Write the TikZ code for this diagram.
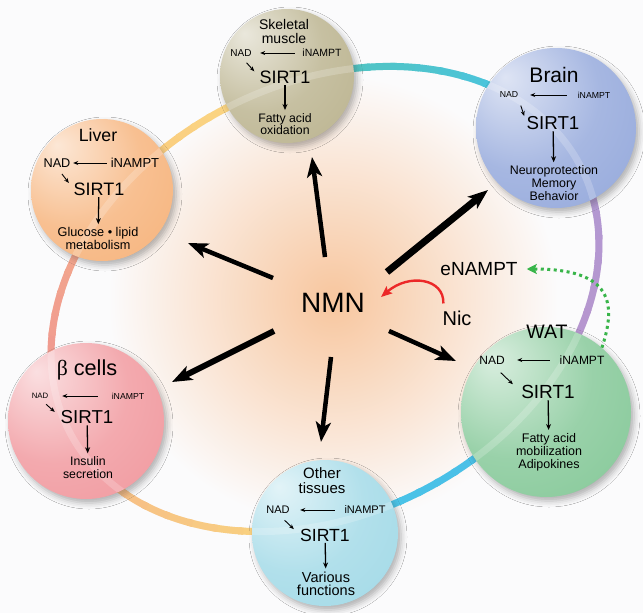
\documentclass[tikz,border=0pt]{standalone}
\usepackage{fontspec}
\setmainfont{Liberation Sans}
\newfontfamily\grkfont{Liberation Serif}
\usetikzlibrary{arrows.meta,calc,shadows.blur}

\definecolor{bg}{RGB}{251,251,252}
\definecolor{glow}{RGB}{248,198,158}
\definecolor{yLi}{RGB}{248,188,96}
\definecolor{ySk}{RGB}{250,208,100}
\definecolor{tSk}{RGB}{40,182,170}
\definecolor{cBrr}{RGB}{28,182,228}
\definecolor{pBr}{RGB}{158,130,202}
\definecolor{pWa}{RGB}{166,122,192}
\definecolor{cWar}{RGB}{28,174,224}
\definecolor{cOtr}{RGB}{30,182,226}
\definecolor{oOt}{RGB}{249,205,95}
\definecolor{oBe}{RGB}{243,162,108}
\definecolor{sBe}{RGB}{236,120,120}
\definecolor{sLi}{RGB}{240,150,110}
\definecolor{cSk}{RGB}{184,176,138}
\definecolor{cBr}{RGB}{144,165,218}
\definecolor{cLi}{RGB}{246,176,118}
\definecolor{cBe}{RGB}{240,148,154}
\definecolor{cWa}{RGB}{128,198,148}
\definecolor{cOt}{RGB}{158,216,230}
\definecolor{nicred}{RGB}{236,40,40}
\definecolor{dotgreen}{RGB}{57,181,74}
\colorlet{sphc}{gray}

\pgfdeclareradialshading[sphc]{sphere}{\pgfpoint{-16bp}{16bp}}{%
 color(0bp)=(sphc!30!white); color(24bp)=(sphc!80!white); color(50bp)=(sphc); color(70bp)=(sphc!85!black)}

\newcommand\setfs[2]{\fontsize{#1}{#2}\selectfont}

% ring arc with colour gradient: #1 start angle, #2 end angle, #3 start colour, #4 end colour
\newcommand\ringarc[4]{%
 \foreach \i in {0,...,11}{%
   \pgfmathsetmacro\ta{#1+(#2-#1)*\i/12}%
   \pgfmathsetmacro\tb{#1+(#2-#1)*(\i+1.2)/12}%
   \pgfmathtruncatemacro\pc{100*\i/11}%
   \colorlet{tmpc}{#4!\pc!#3}%
   \draw[ringseg, tmpc] plot[domain=\ta:\tb, samples=8, variable=\t] ({288*cos(\t)},{-215*sin(\t)});
 }}

\tikzset{
 sph/.style={/utils/exec={\colorlet{sphc}{#1}}, circle, inner sep=0pt, shade, shading=sphere,
   blur shadow={shadow xshift=3pt, shadow yshift=-4pt, shadow blur radius=6pt, shadow opacity=30}},
 ringseg/.style={line width=7pt, line cap=butt},
 lbl/.style={inner sep=0pt, align=center},
 sarr/.style={line width=0.9pt, -{Stealth[length=5pt,width=4pt]}},
 darr/.style={line width=1.3pt, shorten <=1.5pt, shorten >=3pt, -{Stealth[length=6pt,width=5pt]}},
 bigarr/.style={line width=#1, -{Stealth[length=20pt,width=15pt,inset=5pt]}},
}

\begin{document}
\begin{tikzpicture}[x=1pt,y=-1pt]
\useasboundingbox (0,0) rectangle (643,613);
\fill[bg] (0,0) rectangle (643,613);
\shade[inner color=glow, outer color=bg] (333,300) circle (225);

% ring (rotated ellipse)
\begin{scope}[shift={(325,299)}, rotate=27.6]
\ringarc{118.8}{76.4}{yLi}{ySk}
\ringarc{76.4}{11.9}{tSk}{cBrr}
\ringarc{11.9}{-62.1}{pBr}{pWa}
\ringarc{-62.1}{-111.3}{cWar}{cOtr}
\ringarc{-111.3}{-180.7}{oOt}{oBe}
\ringarc{179.3}{118.8}{sBe}{sLi}
\end{scope}

% organ spheres
\node[sph=cSk, minimum size=134pt] (sk) at (287,76) {};
\node[sph=cBr, minimum size=160pt] (br) at (556,128) {};
\node[sph=cLi, minimum size=142pt] (li) at (102,190) {};
\node[sph=cBe, minimum size=156pt] (be) at (86,421) {};
\node[sph=cWa, minimum size=170pt] (wa) at (546,412) {};
\node[sph=cOt, minimum size=146pt] (ot) at (325,533) {};

% faint ring through spheres
\begin{scope}[shift={(325,299)}, rotate=27.6]
\draw[ringseg, white, opacity=0.2] plot[domain=0:360, samples=120, variable=\t, smooth] ({288*cos(\t)},{-215*sin(\t)});
\end{scope}

% Skeletal muscle
\node[lbl, font=\setfs{14}{14}] (skT) at (284,31) {Skeletal\\muscle};
\node[lbl, font=\setfs{10}{10}] (skN) at (241,53) {NAD};
\node[lbl, font=\setfs{10.5}{10}] (skI) at (322,53) {iNAMPT};
\node[lbl, font=\setfs{18}{18}] (skS) at (285,77) {SIRT1};
\node[lbl, font=\setfs{12.3}{12.5}] (skE) at (285,124) {Fatty acid\\oxidation};
\draw[sarr] ([xshift=-7.5pt]skI.west) -- ([xshift=8.4pt]skN.east);
\draw[sarr] ($(skN.south)!0.3!(skS.west)$) -- ($(skN.south)!0.72!(skS.west)$);
\draw[darr] (skS) -- (skE);

% Brain
\node[lbl, font=\setfs{21}{21}] (brT) at (554,75) {Brain};
\node[lbl, font=\setfs{8.7}{9}] (brN) at (509,95) {NAD};
\node[lbl, font=\setfs{8.7}{9}] (brI) at (594,95) {iNAMPT};
\node[lbl, font=\setfs{18.7}{18}] (brS) at (553,123) {SIRT1};
\node[lbl, font=\setfs{12.4}{13}] (brE) at (554,183) {Neuroprotection\\Memory\\Behavior};
\draw[sarr] ([xshift=-10.8pt]brI.west) -- ([xshift=11.8pt]brN.east);
\draw[sarr] ($(brN.south east)!0.3!(brS.west)$) -- ($(brN.south east)!0.72!(brS.west)$);
\draw[darr] (brS) -- (brE);

% Liver
\node[lbl, font=\setfs{17.7}{18}] (liT) at (98,135) {Liver};
\node[lbl, font=\setfs{12.7}{13}] (liN) at (57,163) {NAD};
\node[lbl, font=\setfs{13}{13}] (liI) at (135,163) {iNAMPT};
\node[lbl, font=\setfs{18}{18}] (liS) at (99,189) {SIRT1};
\node[lbl, font=\setfs{12.7}{13}] (liE) at (98,238.5) {Glucose • lipid\\metabolism};
\draw[sarr] ([xshift=-3.8pt]liI.west) -- ([xshift=2.6pt]liN.east);
\draw[sarr] ($(liN.south)!0.3!(liS.west)$) -- ($(liN.south)!0.72!(liS.west)$);
\draw[darr] (liS) -- (liE);

% beta cells
\node[lbl, font=\setfs{21.7}{22}] (beT) at (87,370) {{\grkfont β} cells};
\node[lbl, font=\setfs{7.8}{8}] (beN) at (40,396) {NAD};
\node[lbl, font=\setfs{8.7}{9}] (beI) at (128,396) {iNAMPT};
\node[lbl, font=\setfs{18.7}{18}] (beS) at (87,417) {SIRT1};
\node[lbl, font=\setfs{12.3}{13}] (beE) at (88,467.5) {Insulin\\secretion};
\draw[sarr] ([xshift=-13.8pt]beI.west) -- ([xshift=13.8pt]beN.east);
\draw[sarr] ($(beN.south)!0.3!(beS.west)$) -- ($(beN.south)!0.72!(beS.west)$);
\draw[darr] (beS) -- (beE);

% WAT
\node[lbl, font=\setfs{19.5}{20}] (waT) at (547,332) {WAT};
\node[lbl, font=\setfs{12}{12}] (waN) at (492,360) {NAD};
\node[lbl, font=\setfs{12}{12}] (waI) at (582,360) {iNAMPT};
\node[lbl, font=\setfs{19}{19}] (waS) at (548,392) {SIRT1};
\node[lbl, font=\setfs{12.5}{13}] (waE) at (549,452) {Fatty acid\\mobilization\\Adipokines};
\draw[sarr] ([xshift=-9.7pt]waI.west) -- ([xshift=12.3pt]waN.east);
\draw[sarr] ($(waN.south)!0.3!(waS.west)$) -- ($(waN.south)!0.72!(waS.west)$);
\draw[darr] (waS) -- (waE);

% Other tissues
\node[lbl, font=\setfs{15}{15}] (otT) at (322,480.5) {Other\\tissues};
\node[lbl, font=\setfs{11}{11}] (otN) at (278,510) {NAD};
\node[lbl, font=\setfs{11}{11}] (otI) at (365,510) {iNAMPT};
\node[lbl, font=\setfs{17.6}{18}] (otS) at (325,535) {SIRT1};
\node[lbl, font=\setfs{14.5}{13}] (otE) at (326,583.5) {Various\\functions};
\draw[sarr] ([xshift=-9.5pt]otI.west) -- ([xshift=10.4pt]otN.east);
\draw[sarr] ($(otN.south)!0.3!(otS.west)$) -- ($(otN.south)!0.72!(otS.west)$);
\draw[darr] (otS) -- (otE);

% centre
\node[lbl, font=\setfs{28}{28}] (nmn) at (333,303) {NMN};
\node[lbl, font=\setfs{19}{19}] (enampt) at (479,269) {eNAMPT};
\node[lbl, font=\setfs{20}{20}] (nic) at (457,318) {Nic};

\coordinate (a1s) at (325,257); \coordinate (a1e) at (312,157);
\coordinate (a2s) at (387,272); \coordinate (a2e) at (488,190);
\coordinate (a3s) at (273,278); \coordinate (a3e) at (188,243);
\coordinate (a4s) at (274,331); \coordinate (a4e) at (172,382);
\coordinate (a5s) at (331,357); \coordinate (a5e) at (321,442);
\coordinate (a6s) at (389,331); \coordinate (a6e) at (456,361);
\draw[bigarr=4.5pt] (a1s) -- (a1e);
\draw[bigarr=7pt] (a2s) -- (a2e);
\draw[bigarr=4.5pt] (a3s) -- (a3e);
\draw[bigarr=6pt] (a4s) -- (a4e);
\draw[bigarr=4.5pt] (a5s) -- (a5e);
\draw[bigarr=4.5pt] (a6s) -- (a6e);

\draw[nicred, line width=2.4pt, -{Stealth[length=11pt,width=9pt,inset=2pt]}]
  ([xshift=1pt,yshift=7pt]nic.north west) .. controls +(1,-25) and +(28,-24) .. ([xshift=16pt,yshift=6pt]nmn.east);
\draw[dotgreen, line width=3pt, dash pattern=on 3pt off 3.5pt, -{Stealth[length=10pt,width=10pt,inset=2pt]}]
  (wa.49) .. controls +(15,-45) and +(85,0) .. ([xshift=9pt]enampt.east);
\end{tikzpicture}
\end{document}
